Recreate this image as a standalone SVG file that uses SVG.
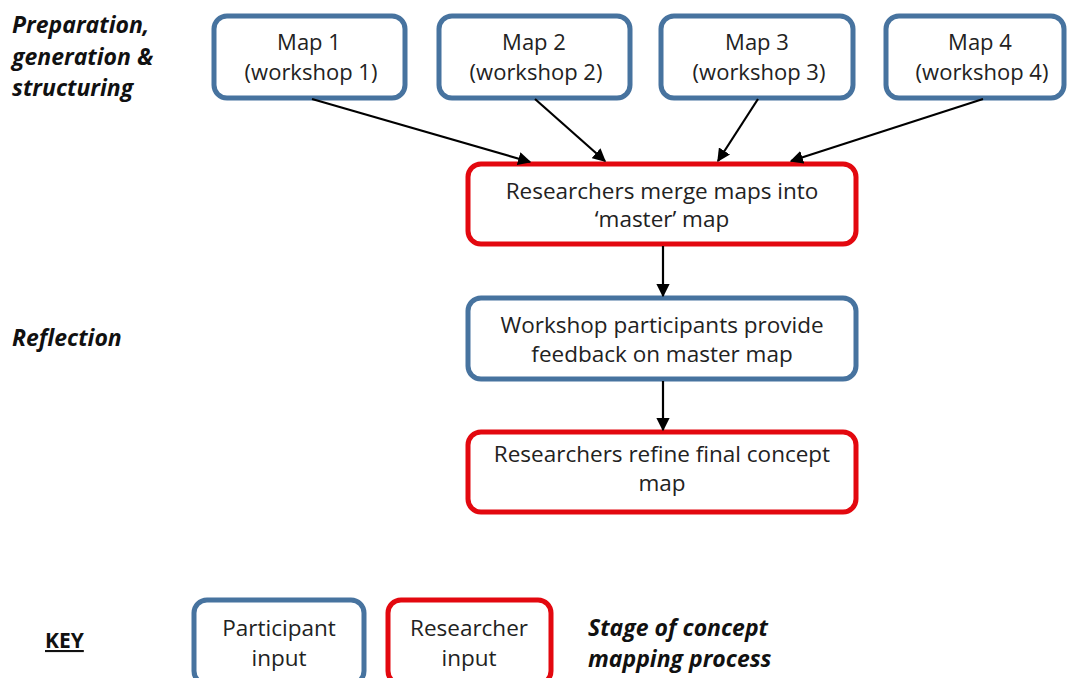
<svg xmlns="http://www.w3.org/2000/svg" width="1067" height="678" viewBox="0 0 1067 678">
<defs>
<style>
.box{fill:#fff;stroke-width:5}
.p{stroke:#47739f}
.r{stroke:#e3080f}
.t{font-family:"Open Sans","Liberation Sans",sans-serif;font-size:22.5px;fill:#222;text-anchor:middle}
.m{font-size:22px}
.lab{font-family:"Open Sans","DejaVu Sans",sans-serif;font-size:23px;font-weight:bold;font-style:italic;fill:#111}
.c{stroke:#000;stroke-width:2.2;fill:none;marker-end:url(#ah)}
</style>
<marker id="ah" viewBox="0 0 10 10" refX="9" refY="5" markerWidth="6" markerHeight="6" orient="auto" markerUnits="strokeWidth">
<path d="M0,0 L10,5 L0,10 z" fill="#000"/>
</marker>
</defs>
<rect width="1067" height="678" fill="#fff"/>
<g id="labels">
<text class="lab" x="12" y="33">Preparation,</text>
<text class="lab" x="12" y="65">generation &amp;</text>
<text class="lab" x="12" y="96">structuring</text>
<text class="lab" x="12" y="346">Reflection</text>
<text class="lab" x="588" y="636">Stage of concept</text>
<text class="lab" x="588" y="667">mapping process</text>
<text x="45" y="648" style="font-family:'Open Sans','DejaVu Sans',sans-serif;font-size:21px;font-weight:bold;fill:#111;text-decoration:underline">KEY</text>
</g>
<g id="map1"><rect class="box p" x="214" y="16" width="191" height="82" rx="13"/><text class="t m" x="309" y="50">Map 1</text><text class="t m" x="311" y="80">(workshop 1)</text></g>
<g id="map2"><rect class="box p" x="439" y="16" width="191" height="82" rx="13"/><text class="t m" x="534" y="50">Map 2</text><text class="t m" x="536" y="80">(workshop 2)</text></g>
<g id="map3"><rect class="box p" x="661" y="16" width="192" height="82" rx="13"/><text class="t m" x="757" y="50">Map 3</text><text class="t m" x="759" y="80">(workshop 3)</text></g>
<g id="map4"><rect class="box p" x="886" y="16" width="178" height="82" rx="13"/><text class="t m" x="980" y="50">Map 4</text><text class="t m" x="982" y="80">(workshop 4)</text></g>
<g id="merge"><rect class="box r" x="468" y="164" width="388" height="80" rx="13"/><text class="t" x="662" y="199">Researchers merge maps into</text><text class="t" x="662" y="227">‘master’ map</text></g>
<g id="feedback"><rect class="box p" x="468" y="298" width="388" height="81" rx="13"/><text class="t" x="662" y="333">Workshop participants provide</text><text class="t" x="662" y="362">feedback on master map</text></g>
<g id="refine"><rect class="box r" x="468" y="432" width="388" height="80" rx="13"/><text class="t" x="662" y="462">Researchers refine final concept</text><text class="t" x="662" y="491">map</text></g>
<g id="key-participant"><rect class="box p" x="194" y="600" width="170" height="84" rx="13"/><text class="t" x="279" y="636">Participant</text><text class="t" x="279" y="666">input</text></g>
<g id="key-researcher"><rect class="box r" x="388" y="600" width="163" height="84" rx="13"/><text class="t" x="469" y="636">Researcher</text><text class="t" x="469" y="666">input</text></g>
<g id="connectors">
<line class="c" x1="312" y1="99" x2="530" y2="162"/>
<line class="c" x1="535" y1="99" x2="605" y2="161"/>
<line class="c" x1="758" y1="99" x2="718" y2="161"/>
<line class="c" x1="983" y1="99" x2="791" y2="161"/>
<line class="c" x1="663" y1="246" x2="663" y2="296"/>
<line class="c" x1="663" y1="381" x2="663" y2="430"/>
</g>
</svg>
